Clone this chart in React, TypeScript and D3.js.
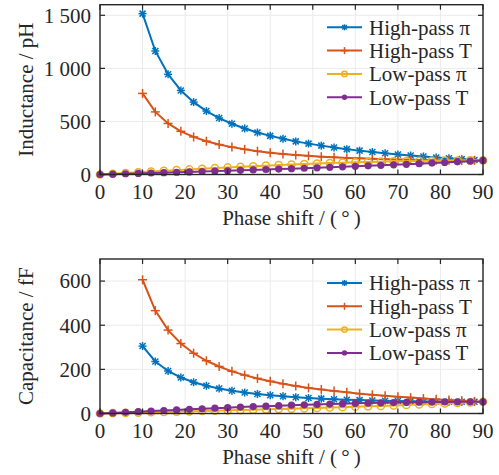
import * as d3 from "d3";
import React from "react";

// phase shift samples (degrees)
const phaseLow = [0, 3, 6, 9, 12, 15, 18, 21, 24, 27, 30, 33, 36, 39, 42, 45, 48, 51, 54, 57, 60, 63, 66, 69, 72, 75, 78, 81, 84, 87, 90];
const phaseHigh = [10, 13, 16, 19, 22, 25, 28, 31, 34, 37, 40, 43, 46, 49, 52, 55, 58, 61, 64, 67, 70, 73, 76, 79, 82, 85, 88];

// inductance (pH)
const indHighPi = [1516, 1164, 944, 792, 682, 598, 532, 478, 434, 396, 364, 337, 312, 291, 272, 255, 239, 225, 212, 200, 189, 179, 170, 161, 153, 145, 137];
const indHighT = [764, 590, 481, 407, 354, 314, 282, 258, 237, 220, 206, 194, 184, 176, 168, 162, 156, 152, 148, 144, 141, 139, 137, 135, 134, 133, 133];
const indLowPi = [0, 6.9, 13.9, 20.7, 27.6, 34.3, 41, 47.5, 53.9, 60.2, 66.3, 72.2, 77.9, 83.5, 88.7, 93.8, 98.5, 103.1, 107.3, 111.2, 114.8, 118.2, 121.1, 123.8, 126.1, 128.1, 129.7, 131, 131.9, 132.4, 132.6];
const indLowT = [0, 3.5, 6.9, 10.4, 13.9, 17.5, 21, 24.6, 28.2, 31.8, 35.5, 39.3, 43.1, 47, 50.9, 54.9, 59, 63.2, 67.6, 72, 76.6, 81.3, 86.1, 91.1, 96.3, 101.7, 107.4, 113.3, 119.4, 125.8, 132.6];

// capacitance (fF)
const capHighPi = [305.5, 235.8, 192.5, 162.9, 141.6, 125.5, 113, 103, 94.9, 88.1, 82.5, 77.8, 73.7, 70.3, 67.3, 64.8, 62.6, 60.7, 59, 57.6, 56.5, 55.5, 54.7, 54, 53.6, 53.3, 53.1];
const capHighT = [606, 466, 378, 317, 273, 239, 213, 191, 174, 159, 146, 135, 125, 116, 109, 102, 96, 90, 85, 80, 76, 72, 68, 64, 61, 58, 55];
const capLowPi = [0, 1.4, 2.8, 4.2, 5.6, 7, 8.4, 9.8, 11.3, 12.7, 14.2, 15.7, 17.2, 18.8, 20.4, 22, 23.6, 25.3, 27, 28.8, 30.6, 32.5, 34.5, 36.5, 38.5, 40.7, 43, 45.3, 47.8, 50.3, 53.1];
const capLowT = [0, 2.8, 5.5, 8.3, 11, 13.7, 16.4, 19, 21.6, 24.1, 26.5, 28.9, 31.2, 33.4, 35.5, 37.5, 39.4, 41.2, 42.9, 44.5, 45.9, 47.3, 48.5, 49.5, 50.5, 51.2, 51.9, 52.4, 52.8, 53, 53.1];

const seriesNames = ["High-pass π", "High-pass T", "Low-pass π", "Low-pass T"];
const seriesColors = ["#0072BD", "#D95319", "#EDB120", "#7E2F8E"];
const seriesMarkers = ["asterisk", "plus", "circle", "dot"];

const W = 499, H = 475;
const left = 100, right = 483;
const font = "'Liberation Serif', 'Times New Roman', serif";
const fs = 21;
const ink = "#262626";

const fmt = d3.formatLocale({decimal: ".", thousands: " ", grouping: [3], currency: ["", ""]}).format(",d");

const Marker = ({type, x, y, color, s = 4}) => {
    if (type === "asterisk") {
        return <g stroke={color} strokeWidth={1.5}>
            <line x1={x - s} y1={y} x2={x + s} y2={y}/>
            <line x1={x} y1={y - s} x2={x} y2={y + s}/>
            <line x1={x - s * 0.75} y1={y - s * 0.75} x2={x + s * 0.75} y2={y + s * 0.75}/>
            <line x1={x - s * 0.75} y1={y + s * 0.75} x2={x + s * 0.75} y2={y - s * 0.75}/>
        </g>;
    }
    if (type === "plus") {
        return <g stroke={color} strokeWidth={1.5}>
            <line x1={x - s - 0.5} y1={y} x2={x + s + 0.5} y2={y}/>
            <line x1={x} y1={y - s - 0.5} x2={x} y2={y + s + 0.5}/>
        </g>;
    }
    if (type === "circle") {
        return <circle cx={x} cy={y} r={s * 0.9} fill="none" stroke={color} strokeWidth={1.5}/>;
    }
    return <circle cx={x} cy={y} r={s * 0.9} fill={color}/>;
};

const Panel = ({top, bottom, yMax, yStep, yLabel, data, legendTop}) => {
    const x = d3.scaleLinear().domain([0, 90]).range([left, right]);
    const y = d3.scaleLinear().domain([0, yMax]).range([bottom, top]);
    const xTicks = d3.range(0, 91, 10);
    const yTicks = d3.range(0, yMax + 1, yStep).filter(v => v <= yMax);
    const line = d3.line().x(d => x(d[0])).y(d => y(d[1]));
    const tl = 5;

    return <g>
        {/* grid */}
        {xTicks.map(t => <line key={"gx" + t} x1={x(t)} x2={x(t)} y1={top} y2={bottom} stroke="#ebebeb" strokeWidth={1}/>)}
        {yTicks.map(t => <line key={"gy" + t} x1={left} x2={right} y1={y(t)} y2={y(t)} stroke="#ebebeb" strokeWidth={1}/>)}

        {/* series */}
        {data.map((s, i) => {
            const pts = s.xs.map((v, j) => [v, s.ys[j]]);
            return <g key={i}>
                <path d={line(pts)} fill="none" stroke={seriesColors[i]} strokeWidth={2}/>
                {pts.map((p, j) => <Marker key={j} type={seriesMarkers[i]} x={x(p[0])} y={y(p[1])} color={seriesColors[i]}/>)}
            </g>;
        })}

        {/* box and ticks */}
        <rect x={left} y={top} width={right - left} height={bottom - top} fill="none" stroke={ink} strokeWidth={1.4}/>
        {xTicks.map(t => <g key={"tx" + t} stroke={ink} strokeWidth={1.2}>
            <line x1={x(t)} x2={x(t)} y1={bottom} y2={bottom - tl}/>
            <line x1={x(t)} x2={x(t)} y1={top} y2={top + tl}/>
        </g>)}
        {yTicks.map(t => <g key={"ty" + t} stroke={ink} strokeWidth={1.2}>
            <line x1={left} x2={left + tl} y1={y(t)} y2={y(t)}/>
            <line x1={right} x2={right - tl} y1={y(t)} y2={y(t)}/>
        </g>)}

        {/* tick labels */}
        {xTicks.map(t => <text key={"lx" + t} x={x(t)} y={bottom + 24.5} textAnchor="middle"
                               fontFamily={font} fontSize={fs} fill={ink}>{t}</text>)}
        {yTicks.map(t => <text key={"ly" + t} x={left - 9} y={y(t)} dy="0.35em" textAnchor="end"
                               fontFamily={font} fontSize={fs} fill={ink}>{fmt(t)}</text>)}

        {/* axis titles */}
        <text x={(left + right) / 2} y={bottom + 50} textAnchor="middle" fontFamily={font} fontSize={fs} fill={ink}>
            Phase shift / (&#8201;°&#8201;)
        </text>
        <text transform={`translate(33,${(top + bottom) / 2}) rotate(-90)`} textAnchor="middle"
              fontFamily={font} fontSize={fs} fill={ink}>{yLabel}</text>

        {/* legend */}
        {seriesNames.map((n, i) => {
            const ly = legendTop + i * 23.3;
            return <g key={"lg" + i}>
                <line x1={327} x2={362} y1={ly} y2={ly} stroke={seriesColors[i]} strokeWidth={2}/>
                <Marker type={seriesMarkers[i]} x={344.5} y={ly} color={seriesColors[i]} s={3}/>
                <text x={369} y={ly} dy="0.35em" fontFamily={font} fontSize={fs} fill={ink}>{n}</text>
            </g>;
        })}
    </g>;
};

const App = () => {
    const indData = [
        {xs: phaseHigh, ys: indHighPi},
        {xs: phaseHigh, ys: indHighT},
        {xs: phaseLow, ys: indLowPi},
        {xs: phaseLow, ys: indLowT},
    ];
    const capData = [
        {xs: phaseHigh, ys: capHighPi},
        {xs: phaseHigh, ys: capHighT},
        {xs: phaseLow, ys: capLowPi},
        {xs: phaseLow, ys: capLowT},
    ];
    return <svg width={W} height={H} style={{position: "absolute", left: 0, top: 0, background: "#fff"}}>
        <Panel top={4.7} bottom={174.5} yMax={1600} yStep={500} yLabel="Inductance / pH" data={indData} legendTop={27.3}/>
        <Panel top={259} bottom={413.5} yMax={700} yStep={200} yLabel="Capacitance / fF" data={capData} legendTop={283}/>
    </svg>;
};

export default App;
